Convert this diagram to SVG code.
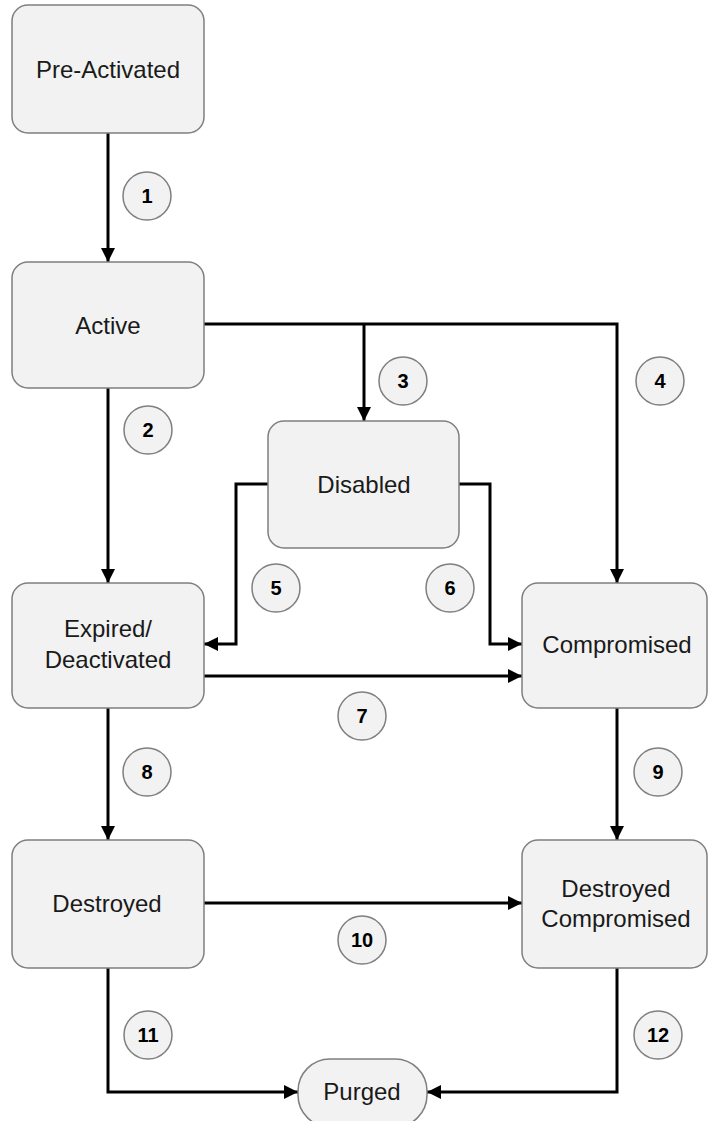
<svg xmlns="http://www.w3.org/2000/svg" width="708" height="1121" viewBox="0 0 708 1121">
<defs>
<marker id="ah" markerWidth="14" markerHeight="14" refX="14" refY="7" orient="auto" markerUnits="userSpaceOnUse"><path d="M0,0 L14,7 L0,14 z" fill="#000"/></marker>
<style>
.box{fill:#f2f2f2;stroke:#7f7f7f;stroke-width:1.5}
.lbl{font-family:"Liberation Sans",Arial,sans-serif;font-size:24px;fill:#1a1a1a;text-anchor:middle;dominant-baseline:central}
.num{font-family:"Liberation Sans",Arial,sans-serif;font-size:20px;font-weight:bold;fill:#000;text-anchor:middle;dominant-baseline:central}
.cir{fill:#f2f2f2;stroke:#7f7f7f;stroke-width:1.5}
.con{fill:none;stroke:#000;stroke-width:3}
</style>
</defs>
<rect width="708" height="1121" fill="#fff"/>
<g id="connectors">
<path class="con" d="M108,133 V262" marker-end="url(#ah)"/>
<path class="con" d="M108,388 V583" marker-end="url(#ah)"/>
<path class="con" d="M204,324 H617 V583" marker-end="url(#ah)"/>
<path class="con" d="M364,324 V421" marker-end="url(#ah)"/>
<path class="con" d="M268,484 H236 V644 H204" marker-end="url(#ah)"/>
<path class="con" d="M459,484 H490 V644 H522" marker-end="url(#ah)"/>
<path class="con" d="M204,676 H522" marker-end="url(#ah)"/>
<path class="con" d="M108,708 V840" marker-end="url(#ah)"/>
<path class="con" d="M617,708 V840" marker-end="url(#ah)"/>
<path class="con" d="M204,903 H522" marker-end="url(#ah)"/>
<path class="con" d="M108,968 V1092 H298" marker-end="url(#ah)"/>
<path class="con" d="M617,968 V1092 H427" marker-end="url(#ah)"/>
</g>
<g id="labels">
<g><circle class="cir" cx="147" cy="196" r="24"/><text class="num" x="147" y="196">1</text></g>
<g><circle class="cir" cx="148" cy="430" r="24"/><text class="num" x="148" y="430">2</text></g>
<g><circle class="cir" cx="403" cy="381" r="24"/><text class="num" x="403" y="381">3</text></g>
<g><circle class="cir" cx="660" cy="381" r="24"/><text class="num" x="660" y="381">4</text></g>
<g><circle class="cir" cx="276" cy="588" r="24"/><text class="num" x="276" y="588">5</text></g>
<g><circle class="cir" cx="450" cy="588" r="24"/><text class="num" x="450" y="588">6</text></g>
<g><circle class="cir" cx="362" cy="716" r="24"/><text class="num" x="362" y="716">7</text></g>
<g><circle class="cir" cx="147" cy="772" r="24"/><text class="num" x="147" y="772">8</text></g>
<g><circle class="cir" cx="658" cy="772" r="24"/><text class="num" x="658" y="772">9</text></g>
<g><circle class="cir" cx="362" cy="940" r="24"/><text class="num" x="362" y="940">10</text></g>
<g><circle class="cir" cx="148" cy="1035" r="24"/><text class="num" x="148" y="1035">11</text></g>
<g><circle class="cir" cx="658" cy="1035" r="24"/><text class="num" x="658" y="1035">12</text></g>
</g>
<g id="pre-activated"><rect class="box" x="12" y="5" width="192" height="128" rx="16"/><text class="lbl" x="108" y="69">Pre-Activated</text></g>
<g id="active"><rect class="box" x="12" y="262" width="192" height="126" rx="16"/><text class="lbl" x="108" y="325">Active</text></g>
<g id="disabled"><rect class="box" x="268" y="421" width="191" height="127" rx="16"/><text class="lbl" x="364" y="484">Disabled</text></g>
<g id="expired"><rect class="box" x="12" y="583" width="192" height="125" rx="16"/><text class="lbl" x="108" y="628">Expired/</text><text class="lbl" x="108" y="659">Deactivated</text></g>
<g id="compromised"><rect class="box" x="522" y="583" width="185" height="125" rx="16"/><text class="lbl" x="617" y="644">Compromised</text></g>
<g id="destroyed"><rect class="box" x="12" y="840" width="192" height="128" rx="16"/><text class="lbl" x="107" y="903">Destroyed</text></g>
<g id="destroyed-compromised"><rect class="box" x="522" y="840" width="185" height="128" rx="16"/><text class="lbl" x="616" y="888">Destroyed</text><text class="lbl" x="616" y="918">Compromised</text></g>
<g id="purged"><rect class="box" x="298" y="1059" width="129" height="68" rx="32"/><text class="lbl" x="362" y="1091">Purged</text></g>
</svg>
